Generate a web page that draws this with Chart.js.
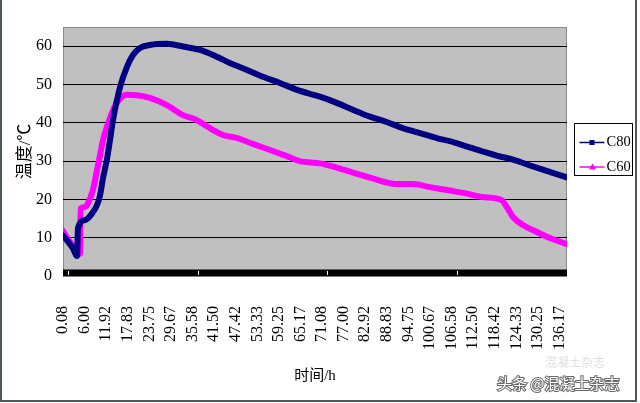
<!DOCTYPE html>
<html>
<head>
<meta charset="utf-8">
<script src="https://cdn.jsdelivr.net/npm/chart.js@4/dist/chart.umd.min.js"></script>
<style>
  html, body { margin: 0; padding: 0; background: #fff; }
  #wrap { width: 640px; height: 403px; position: relative; }
</style>
</head>
<body>
<div id="wrap"><canvas id="Temp"></canvas></div>
<script>
// hours after casting
var c80Time = [0.08, 1.45, 2.82, 3.92, 4.19, 6.11, 8.03, 9.4, 10.22, 11.04, 12.13, 12.96, 13.78, 15.7, 17.61,
    19.26, 21.18, 23.92, 28.57, 32.96, 37.6, 41.2, 45.8, 50.5, 54.9, 59.5, 64.2, 70.5, 75.1, 79.5,
    84.2, 88.8, 93.2, 97.9, 102.5, 106.1, 110.8, 115.1, 119.8, 123.4, 128.8, 133.5, 137.9];
var c80Temp = [10.5, 9.0, 7.2, 5.2, 12.5, 14.6, 16.3, 18.5, 21, 25.5, 30.5, 35.5, 40.7, 49.3, 54.6,
    57.7, 59.5, 60.3, 60.6, 59.9, 59, 57.7, 55.6, 53.8, 52, 50.4, 48.6, 46.8, 45.2, 43.4,
    41.6, 40.2, 38.6, 37.3, 36, 35.2, 33.8, 32.5, 31.2, 30.4, 28.6, 27.2, 25.8];

var c60Time = [0.08, 1.45, 3.37, 4.74, 4.88, 6.11, 6.93, 8.3, 9.4, 10.22, 11.04, 12.13, 13.78, 15.7, 17.61,
    20.35, 23.92, 28.57, 32.96, 36.5, 41.2, 43.9, 47.8, 52.1, 56.8, 61.4, 65.0, 70.5, 75.1, 79.5,
    84.2, 88.8, 91.6, 96.0, 100.6, 106.1, 110.8, 115.1, 120.3, 121.7, 123.4, 126.1, 129.9, 133.5, 137.9];
var c60Temp = [11.8, 9.6, 7.3, 5.8, 17.6, 18.0, 19.0, 22.5, 27.7, 31.5, 35.5, 39.0, 43.3, 46.3, 47.3,
    47.2, 46.5, 44.6, 42.0, 40.8, 38.1, 36.8, 36.0, 34.5, 32.9, 31.3, 30.0, 29.4, 28.3, 27.0,
    25.7, 24.4, 24.0, 24.0, 23.2, 22.3, 21.5, 20.6, 19.8, 18.0, 15.4, 13.3, 11.5, 9.9, 8.4];

var xTickLabels = ['0.08', '6.00', '11.92', '17.83', '23.75', '29.67', '35.58', '41.50', '47.42', '53.33',
    '59.25', '65.17', '71.08', '77.00', '82.92', '88.83', '94.75', '100.67', '106.58', '112.50',
    '118.42', '124.33', '130.25', '136.17'];
var yTickVals = [0, 10, 20, 30, 40, 50, 60];

var serif = "'Liberation Serif', 'Noto Sans CJK SC', serif";

function pts(xs, ys) {
    return xs.map(function (x, i) { return { x: x, y: ys[i] }; });
}

// grey plot area, black strip on the baseline, boxed legend, frame and watermark
var decor = {
    id: 'decor',
    beforeDraw: function (chart) {
        var a = chart.chartArea, ctx = chart.ctx;
        ctx.save();
        ctx.fillStyle = '#c0c0c0';
        ctx.fillRect(a.left, a.top, a.right - a.left, a.bottom - a.top);
        ctx.strokeStyle = '#8a8a8a';
        ctx.lineWidth = 1;
        ctx.strokeRect(a.left + 0.5, a.top + 0.5, a.right - a.left - 1, a.bottom - a.top - 1);
        ctx.restore();
    },
    afterDatasetsDraw: function (chart) {
        var a = chart.chartArea, ctx = chart.ctx, x = chart.scales.x;
        ctx.save();
        ctx.fillStyle = '#000';
        ctx.fillRect(a.left, a.bottom - 6.5, a.right - a.left, 7);
        ctx.strokeStyle = '#fff';
        ctx.lineWidth = 1;
        [0, 6, 12, 18].forEach(function (k) {
            var px = Math.round(x.getPixelForValue(parseFloat(xTickLabels[k]))) + 5.5;
            ctx.beginPath(); ctx.moveTo(px, a.bottom - 5); ctx.lineTo(px, a.bottom - 1); ctx.stroke();
        });
        ctx.restore();
    },
    afterDraw: function (chart) {
        var a = chart.chartArea, ctx = chart.ctx;
        ctx.save();
        // legend
        var bx = a.right + 7.5, by = 123.5, bw = 58, bh = 52;
        ctx.fillStyle = '#fff';
        ctx.fillRect(bx, by, bw, bh);
        ctx.strokeStyle = '#000';
        ctx.lineWidth = 1;
        ctx.strokeRect(bx, by, bw, bh);
        ctx.font = '14.5px ' + serif;
        ctx.textBaseline = 'middle';
        ctx.textAlign = 'left';
        chart.data.datasets.forEach(function (ds, i) {
            var ly = by + 19 + i * 24.5;
            ctx.strokeStyle = ds.borderColor;
            ctx.lineWidth = 1.5;
            ctx.beginPath(); ctx.moveTo(bx + 5, ly); ctx.lineTo(bx + 30, ly); ctx.stroke();
            ctx.fillStyle = ds.borderColor;
            if (i === 0) {
                ctx.fillRect(bx + 15, ly - 2.5, 5, 5);
            } else {
                ctx.beginPath();
                ctx.moveTo(bx + 18, ly - 3.5); ctx.lineTo(bx + 21.5, ly + 2.5); ctx.lineTo(bx + 14.5, ly + 2.5);
                ctx.closePath(); ctx.fill();
            }
            ctx.fillStyle = '#000';
            ctx.fillText(ds.label, bx + 32, ly);
        });
        // frame
        ctx.strokeStyle = '#4d5c50';
        ctx.lineWidth = 2;
        ctx.beginPath();
        ctx.moveTo(1, 0); ctx.lineTo(1, 401); ctx.lineTo(636, 401); ctx.lineTo(636, 0);
        ctx.stroke();
        // watermark
        ctx.font = "12px 'Noto Sans CJK SC'";
        ctx.fillStyle = 'rgba(200,200,200,0.6)';
        ctx.textAlign = 'left';
        ctx.fillText('混凝土杂志', 545, 362);
        ctx.font = "15px 'Noto Sans CJK SC'";
        ctx.lineWidth = 2;
        ctx.strokeStyle = '#6a6a6a';
        ctx.strokeText('头条 @混凝土杂志', 497, 383);
        ctx.fillStyle = '#fff';
        ctx.fillText('头条 @混凝土杂志', 497, 383);
        ctx.restore();
    }
};

new Chart(document.getElementById('Temp'), {
    type: 'line',
    data: {
        datasets: [
            {
                label: 'C80',
                data: pts(c80Time, c80Temp),
                borderColor: '#000080',
                borderWidth: 6,
                pointRadius: 0,
                cubicInterpolationMode: 'monotone',
                borderJoinStyle: 'round',
                borderCapStyle: 'round'
            },
            {
                label: 'C60',
                data: pts(c60Time, c60Temp),
                borderColor: '#ff00ff',
                borderWidth: 6,
                pointRadius: 0,
                cubicInterpolationMode: 'monotone',
                borderJoinStyle: 'round',
                borderCapStyle: 'round'
            }
        ]
    },
    options: {
        responsive: true,
        maintainAspectRatio: false,
        animation: false,
        layout: { padding: { left: 0, right: 73, top: 27, bottom: 0 } },
        plugins: {
            legend: { display: false },
            tooltip: { enabled: false }
        },
        scales: {
            x: {
                type: 'linear',
                min: 0.08,
                max: 138.2,
                afterBuildTicks: function (s) {
                    s.ticks = xTickLabels.map(function (l) { return { value: parseFloat(l) }; });
                },
                afterFit: function (s) { s.height = 127; },
                ticks: {
                    autoSkip: false,
                    minRotation: 90,
                    maxRotation: 90,
                    padding: 30,
                    color: '#000',
                    font: { family: serif, size: 16 },
                    callback: function (v, i) { return xTickLabels[i]; }
                },
                grid: { display: false, drawTicks: false },
                border: { display: false },
                title: {
                    display: true,
                    text: '时间/h',
                    color: '#000',
                    font: { family: serif, size: 15 },
                    padding: { top: 0, bottom: 18 }
                }
            },
            y: {
                min: 0,
                max: 65,
                afterBuildTicks: function (s) {
                    s.ticks = yTickVals.map(function (v) { return { value: v }; });
                },
                afterFit: function (s) { s.width = 63; },
                ticks: {
                    padding: 11,
                    color: '#000',
                    font: { family: serif, size: 16 }
                },
                grid: {
                    drawTicks: false,
                    lineWidth: 1,
                    color: function (c) { return c.tick && c.tick.value === 0 ? 'rgba(0,0,0,0)' : '#000'; }
                },
                border: { display: false },
                title: {
                    display: true,
                    text: '温度/℃',
                    color: '#000',
                    font: { family: serif, size: 17 },
                    padding: { top: 15, bottom: 0 }
                }
            }
        }
    },
    plugins: [decor]
});
</script>
</body>
</html>
